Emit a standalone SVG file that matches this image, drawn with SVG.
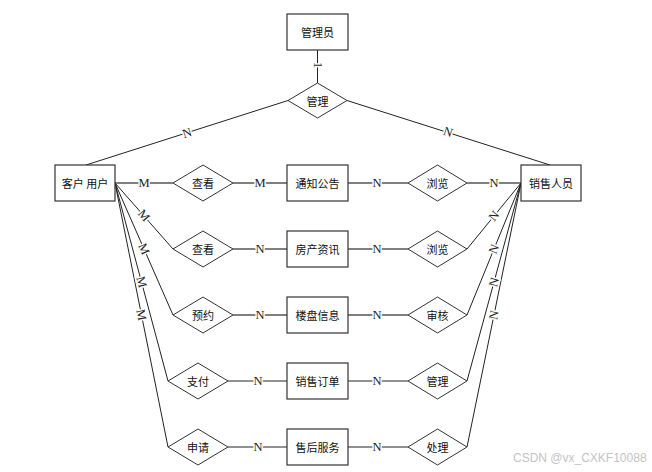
<svg xmlns="http://www.w3.org/2000/svg" width="652" height="472" viewBox="0 0 652 472">
<style>
.bg{fill:#fff}
.box{fill:#fff;stroke:#333;stroke-width:1.2}
.dia{fill:#fff;stroke:#333;stroke-width:1}
.t{font-family:"Noto Sans CJK SC","Liberation Sans",sans-serif;font-size:11px;fill:#111;text-anchor:middle;dominant-baseline:central}
.ln{stroke:#222;stroke-width:1;fill:none}
.hl{stroke:#555;stroke-width:1.3;fill:none}
.lb{font-family:"Liberation Serif",serif;font-size:12.5px;fill:#222;text-anchor:middle;dominant-baseline:central;stroke:#fff;stroke-width:3;paint-order:stroke}
.wm{font-family:"Liberation Sans",sans-serif;font-size:12px;fill:#c4c4c4}
</style>
<rect class="bg" x="0" y="0" width="652" height="472"/>
<g id="connectors">
<line class="ln" x1="317.5" y1="50" x2="317.5" y2="83"/>
<line class="ln" x1="288" y1="100.5" x2="86" y2="165"/>
<line class="ln" x1="347" y1="100.5" x2="550" y2="165"/>
<line class="hl" x1="115" y1="183" x2="173" y2="183"/>
<line class="hl" x1="233" y1="183" x2="287" y2="183"/>
<line class="hl" x1="348" y1="183" x2="408" y2="183"/>
<line class="hl" x1="467" y1="183" x2="521" y2="183"/>
<line class="ln" x1="115" y1="183" x2="173" y2="249"/>
<line class="ln" x1="115" y1="183" x2="173" y2="315"/>
<line class="ln" x1="115" y1="183" x2="168" y2="381"/>
<line class="ln" x1="115" y1="183" x2="168" y2="447"/>
<line class="ln" x1="521" y1="183" x2="467" y2="249"/>
<line class="ln" x1="521" y1="183" x2="467" y2="315"/>
<line class="ln" x1="521" y1="183" x2="467" y2="381"/>
<line class="ln" x1="521" y1="183" x2="467" y2="447"/>
<line class="hl" x1="233" y1="249" x2="287" y2="249"/>
<line class="hl" x1="348" y1="249" x2="408" y2="249"/>
<line class="hl" x1="233" y1="315" x2="287" y2="315"/>
<line class="hl" x1="348" y1="315" x2="408" y2="315"/>
<line class="ln" x1="228" y1="381" x2="287" y2="381"/>
<line class="ln" x1="348" y1="381" x2="408" y2="381"/>
<line class="ln" x1="228" y1="447" x2="287" y2="447"/>
<line class="ln" x1="348" y1="447" x2="408" y2="447"/>
<text class="lb" transform="translate(317.5,65) rotate(90)">1</text>
<text class="lb" transform="translate(187,133) rotate(-17.7)">N</text>
<text class="lb" transform="translate(448,132) rotate(17.6)">N</text>
<text class="lb" x="144" y="183">M</text>
<text class="lb" x="260" y="183">M</text>
<text class="lb" x="377" y="183">N</text>
<text class="lb" x="494" y="183">N</text>
<text class="lb" transform="translate(144,215.5) rotate(48.7)">M</text>
<text class="lb" transform="translate(144,249) rotate(66.3)">M</text>
<text class="lb" transform="translate(141.5,282) rotate(75)">M</text>
<text class="lb" transform="translate(141.3,315) rotate(78.6)">M</text>
<text class="lb" transform="translate(494,216) rotate(-50.7)">N</text>
<text class="lb" transform="translate(494,249) rotate(-67.7)">N</text>
<text class="lb" transform="translate(494,282) rotate(-74.8)">N</text>
<text class="lb" transform="translate(494,315) rotate(-78.4)">N</text>
<text class="lb" x="260" y="249">N</text>
<text class="lb" x="377" y="249">N</text>
<text class="lb" x="260" y="315">N</text>
<text class="lb" x="377" y="315">N</text>
<text class="lb" x="258" y="381">N</text>
<text class="lb" x="377" y="381">N</text>
<text class="lb" x="258" y="447">N</text>
<text class="lb" x="377" y="447">N</text>
</g>
<g id="n-admin"><rect class="box" x="287" y="14" width="61" height="36"/><text class="t" x="317.5" y="32">管理员</text></g>
<g id="r-manage"><polygon class="dia" points="317.5,83 347,100.5 317.5,118 288,100.5"/><text class="t" x="317.5" y="100.5">管理</text></g>
<g id="n-customer"><rect class="box" x="55" y="165" width="60" height="36"/><text class="t" x="85" y="183">客户 用户</text></g>
<g id="n-sales"><rect class="box" x="521" y="165" width="60" height="36"/><text class="t" x="551" y="183">销售人员</text></g>
<g id="r-view1"><polygon class="dia" points="203,165 233,183 203,201 173,183"/><text class="t" x="203" y="183">查看</text></g>
<g id="r-view2"><polygon class="dia" points="203,231 233,249 203,267 173,249"/><text class="t" x="203" y="249">查看</text></g>
<g id="r-book"><polygon class="dia" points="203,297 233,315 203,333 173,315"/><text class="t" x="203" y="315">预约</text></g>
<g id="r-pay"><polygon class="dia" points="198,363 228,381 198,399 168,381"/><text class="t" x="198" y="381">支付</text></g>
<g id="r-apply"><polygon class="dia" points="198,429 228,447 198,465 168,447"/><text class="t" x="198" y="447">申请</text></g>
<g id="n-notice"><rect class="box" x="287" y="165" width="61" height="36"/><text class="t" x="317.5" y="183">通知公告</text></g>
<g id="n-info"><rect class="box" x="287" y="231" width="61" height="36"/><text class="t" x="317.5" y="249">房产资讯</text></g>
<g id="n-property"><rect class="box" x="287" y="297" width="61" height="36"/><text class="t" x="317.5" y="315">楼盘信息</text></g>
<g id="n-order"><rect class="box" x="287" y="363" width="61" height="36"/><text class="t" x="317.5" y="381">销售订单</text></g>
<g id="n-service"><rect class="box" x="287" y="429" width="61" height="36"/><text class="t" x="317.5" y="447">售后服务</text></g>
<g id="r-browse1"><polygon class="dia" points="437.5,165 467,183 437.5,201 408,183"/><text class="t" x="437.5" y="183">浏览</text></g>
<g id="r-browse2"><polygon class="dia" points="437.5,231 467,249 437.5,267 408,249"/><text class="t" x="437.5" y="249">浏览</text></g>
<g id="r-audit"><polygon class="dia" points="437.5,297 467,315 437.5,333 408,315"/><text class="t" x="437.5" y="315">审核</text></g>
<g id="r-manage2"><polygon class="dia" points="437.5,363 467,381 437.5,399 408,381"/><text class="t" x="437.5" y="381">管理</text></g>
<g id="r-handle"><polygon class="dia" points="437.5,429 467,447 437.5,465 408,447"/><text class="t" x="437.5" y="447">处理</text></g>
<text class="wm" x="513" y="462">CSDN @vx_CXKF10088</text>
</svg>
